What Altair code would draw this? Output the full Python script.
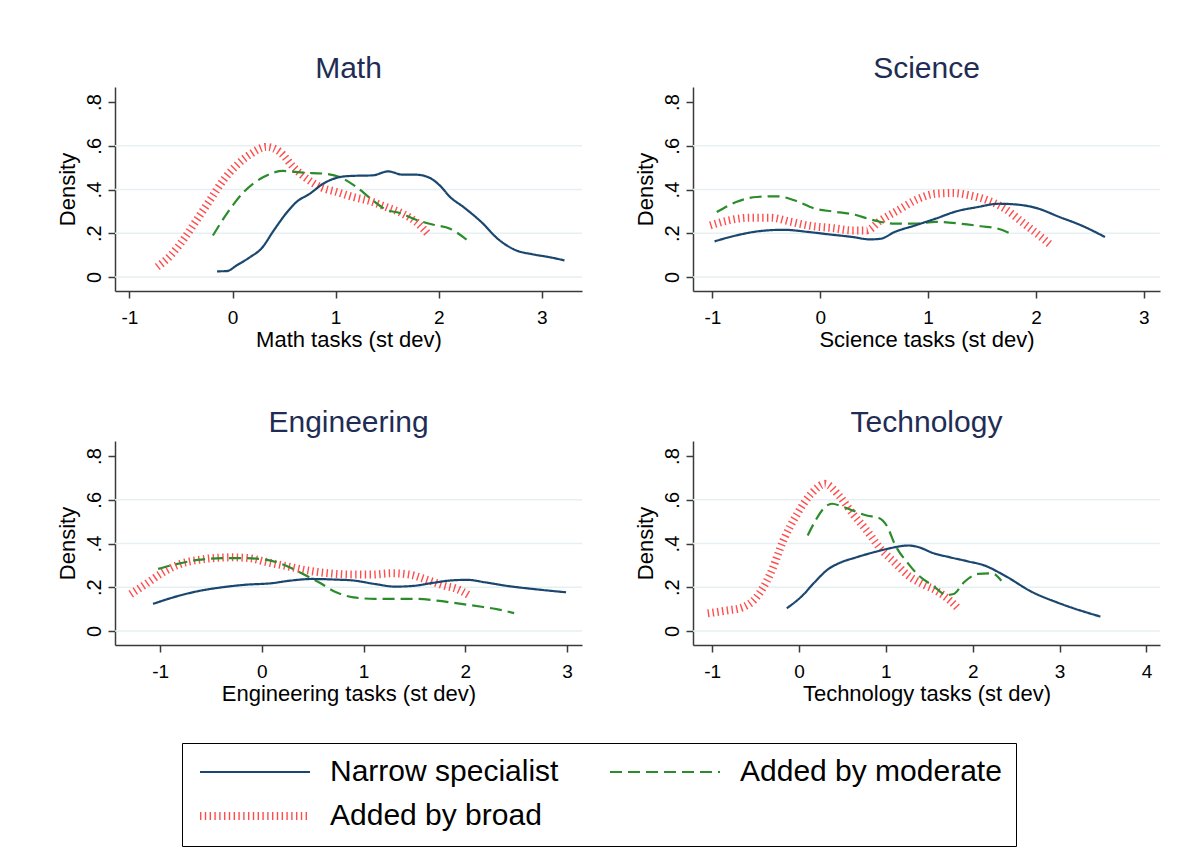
import altair as alt
import pandas as pd

SERIES = ["Narrow specialist", "Added by moderate", "Added by broad"]
COLORS = ["#1a476f", "#2b8c2b", "#ff4d4d"]
DASHES = [[1, 0], [12, 6], [1.4, 3.4]]
WIDTHS = [2.2, 2.2, 8]

GRID_VALUES = [0, 0.2, 0.4, 0.6]
Y_TICKS = [0, 0.2, 0.4, 0.6, 0.8]
Y_DOMAIN = [-0.064, 0.869]

# ---------------- Math ----------------
math_narrow_x = [-0.15, -0.055, 0.04, 0.17, 0.28, 0.40, 0.53, 0.62, 0.75, 0.88, 1.04, 1.14, 1.36, 1.51,
                 1.65, 1.78, 1.91, 2.01, 2.11, 2.24, 2.43, 2.56, 2.75, 2.91, 3.07, 3.22]
math_narrow_y = [0.026, 0.027, 0.053, 0.091, 0.13, 0.213, 0.297, 0.343, 0.381, 0.427, 0.457, 0.462, 0.465,
                 0.483, 0.468, 0.468, 0.454, 0.419, 0.366, 0.320, 0.244, 0.18, 0.122, 0.104, 0.091, 0.076]
math_moderate_x = [-0.19, -0.055, 0.11, 0.30, 0.49, 0.69, 0.88, 1.04, 1.20, 1.36, 1.49, 1.62, 1.78, 1.95, 2.11, 2.27]
math_moderate_y = [0.19, 0.29, 0.389, 0.457, 0.485, 0.477, 0.473, 0.457, 0.412, 0.351, 0.308, 0.293, 0.262,
                   0.239, 0.221, 0.171]
math_broad_x = [-0.73, -0.60, -0.47, -0.35, -0.22, -0.09, 0.04, 0.17, 0.33, 0.46, 0.59, 0.72, 0.85, 1.01,
                1.17, 1.33, 1.49, 1.65, 1.78, 1.91]
math_broad_y = [0.046, 0.099, 0.175, 0.259, 0.351, 0.442, 0.511, 0.561, 0.595, 0.572, 0.503, 0.45, 0.412,
                0.389, 0.366, 0.348, 0.32, 0.29, 0.252, 0.19]

# ---------------- Science ----------------
sci_narrow_x = [-0.98, -0.78, -0.56, -0.34, -0.11, 0.08, 0.30, 0.46, 0.56, 0.69, 0.88, 1.07, 1.26, 1.46,
                1.65, 1.81, 2.0, 2.22, 2.42, 2.64]
sci_narrow_y = [0.163, 0.19, 0.21, 0.216, 0.206, 0.195, 0.183, 0.172, 0.175, 0.206, 0.236, 0.267, 0.30,
                0.32, 0.335, 0.332, 0.316, 0.274, 0.236, 0.183]
sci_moderate_x = [-0.96, -0.78, -0.59, -0.40, -0.24, -0.05, 0.11, 0.30, 0.50, 0.69, 0.88, 1.07, 1.30, 1.49, 1.65, 1.78]
sci_moderate_y = [0.297, 0.343, 0.366, 0.369, 0.351, 0.313, 0.30, 0.287, 0.259, 0.244, 0.244, 0.252, 0.244,
                  0.232, 0.221, 0.195]
sci_broad_x = [-1.02, -0.85, -0.66, -0.46, -0.27, -0.08, 0.11, 0.30, 0.43, 0.56, 0.72, 0.91, 1.07, 1.23,
               1.39, 1.55, 1.71, 1.87, 2.03, 2.14]
sci_broad_y = [0.236, 0.259, 0.271, 0.271, 0.252, 0.233, 0.224, 0.213, 0.213, 0.259, 0.305, 0.358, 0.381,
               0.384, 0.373, 0.351, 0.313, 0.252, 0.19, 0.145]

# ---------------- Engineering ----------------
eng_narrow_x = [-1.07, -0.87, -0.63, -0.39, -0.15, 0.085, 0.29, 0.49, 0.73, 0.90, 1.11, 1.31, 1.48, 1.68,
                1.85, 2.02, 2.19, 2.43, 2.67, 2.99]
eng_narrow_y = [0.124, 0.154, 0.182, 0.20, 0.212, 0.218, 0.231, 0.238, 0.235, 0.231, 0.215, 0.203, 0.206,
                0.22, 0.231, 0.234, 0.223, 0.205, 0.192, 0.177]
eng_moderate_x = [-1.02, -0.83, -0.63, -0.39, -0.15, 0.05, 0.22, 0.39, 0.56, 0.73, 0.90, 1.11, 1.31, 1.51,
                  1.72, 1.96, 2.16, 2.33, 2.48]
eng_moderate_y = [0.284, 0.307, 0.325, 0.333, 0.333, 0.325, 0.302, 0.264, 0.223, 0.177, 0.154, 0.147, 0.147,
                  0.147, 0.139, 0.124, 0.111, 0.098, 0.082]
eng_broad_x = [-1.29, -1.14, -0.97, -0.80, -0.63, -0.46, -0.29, -0.12, 0.05, 0.26, 0.46, 0.66, 0.87, 1.07,
               1.28, 1.45, 1.62, 1.79, 1.92, 2.04]
eng_broad_y = [0.169, 0.215, 0.269, 0.307, 0.325, 0.334, 0.337, 0.333, 0.315, 0.295, 0.276, 0.264, 0.258,
               0.258, 0.264, 0.258, 0.235, 0.208, 0.192, 0.162]

# ---------------- Technology ----------------
tech_narrow_x = [-0.14, 0.04, 0.18, 0.34, 0.46, 0.66, 0.86, 1.02, 1.26, 1.38, 1.54, 1.74, 1.94, 2.14, 2.37,
                 2.69, 2.97, 3.13, 3.47]
tech_narrow_y = [0.104, 0.162, 0.223, 0.284, 0.31, 0.337, 0.36, 0.376, 0.391, 0.383, 0.357, 0.337, 0.319,
                 0.299, 0.253, 0.177, 0.131, 0.108, 0.066]
tech_moderate_x = [0.10, 0.18, 0.28, 0.38, 0.50, 0.62, 0.78, 0.92, 1.02, 1.10, 1.26, 1.38, 1.54, 1.70, 1.78,
                   1.90, 2.06, 2.22, 2.33]
tech_moderate_y = [0.437, 0.498, 0.559, 0.582, 0.569, 0.551, 0.528, 0.517, 0.475, 0.399, 0.307, 0.253, 0.208,
                   0.165, 0.169, 0.223, 0.261, 0.264, 0.23]
tech_broad_x = [-1.05, -0.85, -0.65, -0.49, -0.33, -0.18, -0.02, 0.14, 0.30, 0.46, 0.62, 0.78, 0.94, 1.10,
                1.26, 1.42, 1.58, 1.74, 1.84]
tech_broad_y = [0.081, 0.093, 0.108, 0.154, 0.261, 0.414, 0.536, 0.627, 0.673, 0.62, 0.536, 0.46, 0.376,
                0.314, 0.253, 0.215, 0.185, 0.139, 0.10]

PANELS = [
    ("Math", "Math tasks (st dev)", [-1.14, 3.39], [-1, 0, 1, 2, 3],
     [(math_narrow_x, math_narrow_y), (math_moderate_x, math_moderate_y), (math_broad_x, math_broad_y)]),
    ("Science", "Science tasks (st dev)", [-1.18, 3.15], [-1, 0, 1, 2, 3],
     [(sci_narrow_x, sci_narrow_y), (sci_moderate_x, sci_moderate_y), (sci_broad_x, sci_broad_y)]),
    ("Engineering", "Engineering tasks (st dev)", [-1.444, 3.147], [-1, 0, 1, 2, 3],
     [(eng_narrow_x, eng_narrow_y), (eng_moderate_x, eng_moderate_y), (eng_broad_x, eng_broad_y)]),
    ("Technology", "Technology tasks (st dev)", [-1.22, 4.156], [-1, 0, 1, 2, 3, 4],
     [(tech_narrow_x, tech_narrow_y), (tech_moderate_x, tech_moderate_y), (tech_broad_x, tech_broad_y)]),
]

FONT = "Liberation Sans"


def y_axis():
    return alt.Axis(title="Density", values=Y_TICKS, grid=False,
                    labelExpr="datum.value == 0 ? '0' : '.' + format(datum.value * 10, '.0f')",
                    labelAngle=270, labelAlign="center", labelBaseline="bottom",
                    labelOverlap=False)


def make_panel(title, xtitle, xdom, xticks, series_data):
    rows = []
    # draw broad first so it sits underneath
    for s_idx in [2, 1, 0]:
        xs, ys = series_data[s_idx]
        for i, (xv, yv) in enumerate(zip(xs, ys)):
            rows.append({"x": xv, "y": yv, "series": SERIES[s_idx], "i": i})
    df = pd.DataFrame(rows)

    yscale = alt.Scale(domain=Y_DOMAIN, nice=False, zero=False)
    xscale = alt.Scale(domain=xdom, nice=False, zero=False)

    grid = alt.Chart(pd.DataFrame({"y": GRID_VALUES})).mark_rule(
        color="#e6eff1", strokeWidth=1.5
    ).encode(y=alt.Y("y:Q", scale=yscale, axis=y_axis()))

    lines = alt.Chart(df).mark_line(interpolate="monotone", strokeCap="butt").encode(
        x=alt.X("x:Q", scale=xscale,
                axis=alt.Axis(title=xtitle, values=xticks, labelExpr="'' + datum.value",
                              labelFlush=False, labelOverlap=False, grid=False)),
        y=alt.Y("y:Q", scale=yscale, axis=y_axis()),
        color=alt.Color("series:N", scale=alt.Scale(domain=SERIES, range=COLORS), title=None),
        strokeDash=alt.StrokeDash("series:N", scale=alt.Scale(domain=SERIES, range=DASHES), title=None),
        strokeWidth=alt.StrokeWidth("series:N",
                                    scale=alt.Scale(type="ordinal", domain=SERIES, range=WIDTHS),
                                    title=None),
        order=alt.Order("i:Q"),
    )
    return alt.layer(grid, lines).properties(width=467, height=204, title=title)


panels = [make_panel(*p) for p in PANELS]

row1 = alt.hconcat(panels[0], panels[1], spacing=50)
row2 = alt.hconcat(panels[2], panels[3], spacing=50)

chart = alt.vconcat(row1, row2, spacing=58).properties(
    padding={"left": 47, "top": 46, "right": 5, "bottom": 5}
).configure_view(stroke=None).configure_axis(
    domainColor="#3a3a3a", domainWidth=1.5, tickColor="#3a3a3a", tickWidth=1.5, tickSize=7,
    labelFont=FONT, labelFontSize=19, labelColor="black",
    titleFont=FONT, titleFontSize=22, titleColor="black", titleFontWeight="normal",
).configure_axisX(labelPadding=10, titlePadding=2).configure_axisY(
    labelFontSize=20, labelPadding=4, titlePadding=5
).configure_title(
    font=FONT, fontSize=30, color="#1f2d54", fontWeight="normal", anchor="middle", offset=3
).configure_legend(
    orient="none", legendX=67, legendY=656, columns=2, direction="horizontal",
    symbolType="M-1,0H9", symbolSize=484,
    labelFont=FONT, labelFontSize=30, labelColor="black", labelOffset=104, labelLimit=500,
    columnPadding=46, rowPadding=13, padding=14, strokeColor="black",
)

chart.save("out.html", embed_options={"renderer": "svg", "actions": False})
